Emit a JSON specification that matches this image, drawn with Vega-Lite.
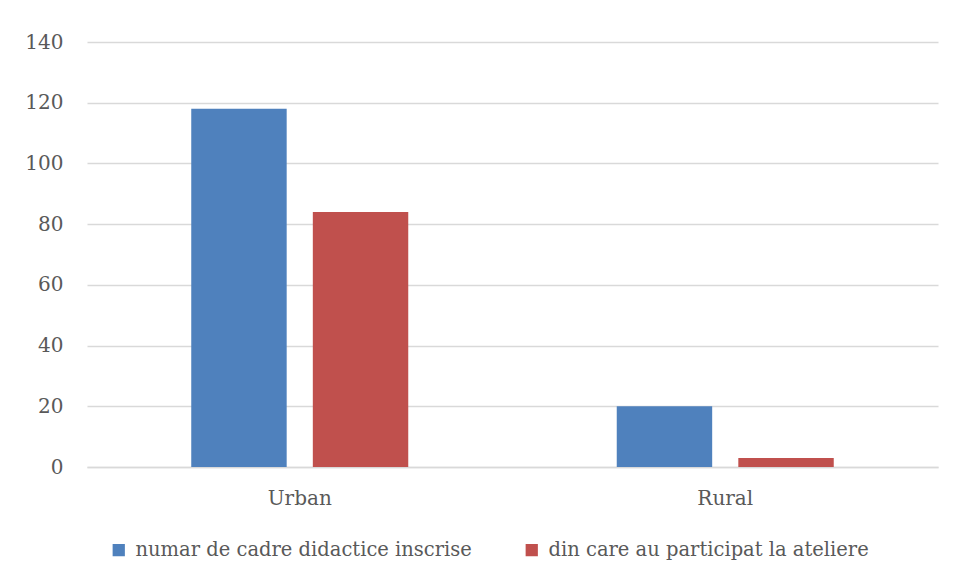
{
  "$schema": "https://vega.github.io/schema/vega-lite/v6.json",
  "autosize": "none",
  "width": 851,
  "height": 425,
  "padding": {"left": 87, "top": 42, "right": 20, "bottom": 112},
  "background": "white",
  "data": {"values": [
    {"zona": "Urban", "serie": "numar de cadre didactice inscrise", "valoare": 118},
    {"zona": "Urban", "serie": "din care au participat la ateliere", "valoare": 84},
    {"zona": "Rural", "serie": "numar de cadre didactice inscrise", "valoare": 20},
    {"zona": "Rural", "serie": "din care au participat la ateliere", "valoare": 3}
  ]},
  "mark": {"type": "bar"},
  "encoding": {
    "x": {"field": "zona", "type": "nominal", "sort": ["Urban", "Rural"],
      "scale": {"paddingInner": 0.49, "paddingOuter": 0.245},
      "axis": {"title": null, "labelAngle": 0, "ticks": false, "domainColor": "#D9D9D9", "domainWidth": 1.5, "labelPadding": 21, "labelFontSize": 20, "labelColor": "#595959", "labelFont": "DejaVu Serif"}},
    "xOffset": {"field": "serie", "type": "nominal", "sort": ["numar de cadre didactice inscrise", "din care au participat la ateliere"],
      "scale": {"paddingInner": 0.215, "paddingOuter": 0}},
    "y": {"field": "valoare", "type": "quantitative",
      "scale": {"domain": [0, 140]},
      "axis": {"title": null, "values": [0, 20, 40, 60, 80, 100, 120, 140], "domain": false, "ticks": false, "labelPadding": 24, "labelFontSize": 20, "labelColor": "#595959", "labelFont": "DejaVu Serif", "gridColor": "#D9D9D9", "gridWidth": 1.5}},
    "color": {"field": "serie", "type": "nominal", "sort": ["numar de cadre didactice inscrise", "din care au participat la ateliere"],
      "scale": {"range": ["#4F81BD", "#C0504D"]},
      "legend": {"title": null, "orient": "none", "legendX": 22, "legendY": 498, "direction": "horizontal", "symbolType": "square", "symbolSize": 150, "symbolStrokeWidth": 0, "symbolOpacity": 1, "labelFontSize": 19.5, "labelOffset": 7, "labelColor": "#595959", "labelFont": "DejaVu Serif", "labelLimit": 500, "columnPadding": 50}}
  },
  "config": {"view": {"stroke": null}}
}
